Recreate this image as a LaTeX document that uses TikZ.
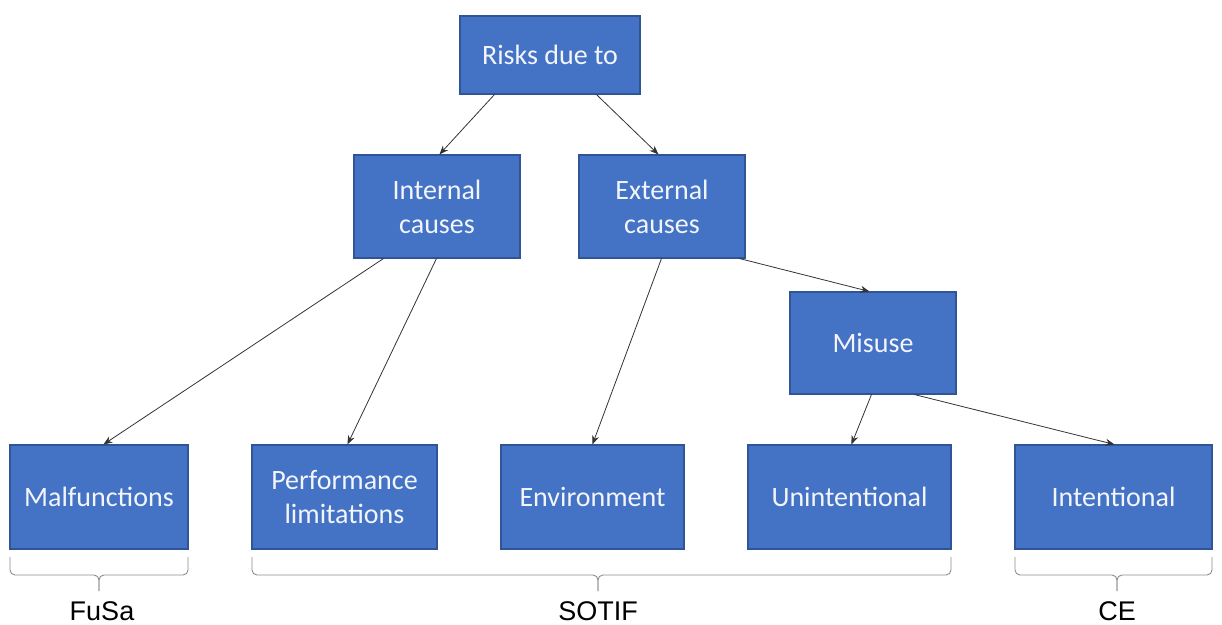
\documentclass[tikz,border=0pt]{standalone}
\usepackage{fontspec}
\setmainfont{Carlito}
\newfontfamily\labelfont{Liberation Sans}
\usetikzlibrary{arrows.meta,calc}

\definecolor{boxfill}{HTML}{4472C4}
\definecolor{boxline}{HTML}{2F5597}
\definecolor{boxtext}{HTML}{F2F5FB}
\definecolor{bracegray}{HTML}{8C8C8C}

\tikzset{
  box/.style={draw=boxline, line width=1.1pt, fill=boxfill, text=boxtext,
    inner sep=0pt, align=center, font=\fontsize{28}{34}\selectfont},
  link/.style={draw=black!80, line width=0.8pt,
    -{Stealth[length=9pt,width=7pt]}},
  brace/.style={draw=bracegray, line width=0.9pt, rounded corners=5pt},
  grouplabel/.style={font=\labelfont\fontsize{27}{27}\selectfont, text=black, inner sep=0pt}
}

% under-brace from x1 to x3 with its tip at x2
\newcommand\groupbrace[3]{%
  \draw[brace] (#1,557) -- (#1,575) -- (#2,575) -- (#2,591);
  \draw[brace] (#3,557) -- (#3,575) -- (#2,575) -- (#2,591);
}

\begin{document}
\begin{tikzpicture}[x=1pt,y=-1pt]
\useasboundingbox (0,0) rectangle (1222,624);

% boxes
\node[box, minimum width=180pt, minimum height=78pt]  (risk)     at (550,55)    {Risks due to};
\node[box, minimum width=166pt, minimum height=103pt] (internal) at (437,206.5) {Internal\\causes};
\node[box, minimum width=166pt, minimum height=103pt] (external) at (662,206.5) {External\\causes};
\node[box, minimum width=166pt, minimum height=102pt] (misuse)   at (873,343)   {Misuse};
\node[box, minimum width=178pt, minimum height=104pt] (malf)     at (99,497)    {Malfunctions};
\node[box, minimum width=185pt, minimum height=104pt] (perf)     at (344.5,497) {Performance\\limitations};
\node[box, minimum width=183pt, minimum height=104pt] (env)      at (592.5,497) {Environment};
\node[box, minimum width=203pt, minimum height=104pt] (unint)    at (849.5,497) {Unintentional};
\node[box, minimum width=197pt, minimum height=104pt] (intent)   at (1113.5,497){Intentional};

% connectors
\draw[link] ($(risk.south west)+(35,0)$)      -- ($(internal.north west)+(86,0)$);
\draw[link] ($(risk.south west)+(137,0)$)     -- ($(external.north west)+(80,0)$);
\draw[link] ($(internal.south west)+(30,0)$)  -- ($(malf.north west)+(94,0)$);
\draw[link] ($(internal.south west)+(83,0)$)  -- ($(perf.north west)+(96,0)$);
\draw[link] ($(external.south west)+(83,0)$)  -- ($(env.north west)+(92,0)$);
\draw[link] ($(external.south east)+(-6,0)$)  -- ($(misuse.north west)+(80,0)$);
\draw[link] ($(misuse.south west)+(82,0)$)    -- ($(unint.north west)+(104,0)$);
\draw[link] ($(misuse.south west)+(125,0)$)   -- ($(intent.north west)+(100,0)$);

% group braces and their labels
\groupbrace{10}{99}{188}
\groupbrace{252}{598}{951}
\groupbrace{1015}{1117}{1212}

\node[grouplabel] (fusa)  at (102,611)  {FuSa};
\node[grouplabel] (sotif) at (598,611)  {SOTIF};
\node[grouplabel] (ce)    at (1117,611) {CE};
\end{tikzpicture}
\end{document}
